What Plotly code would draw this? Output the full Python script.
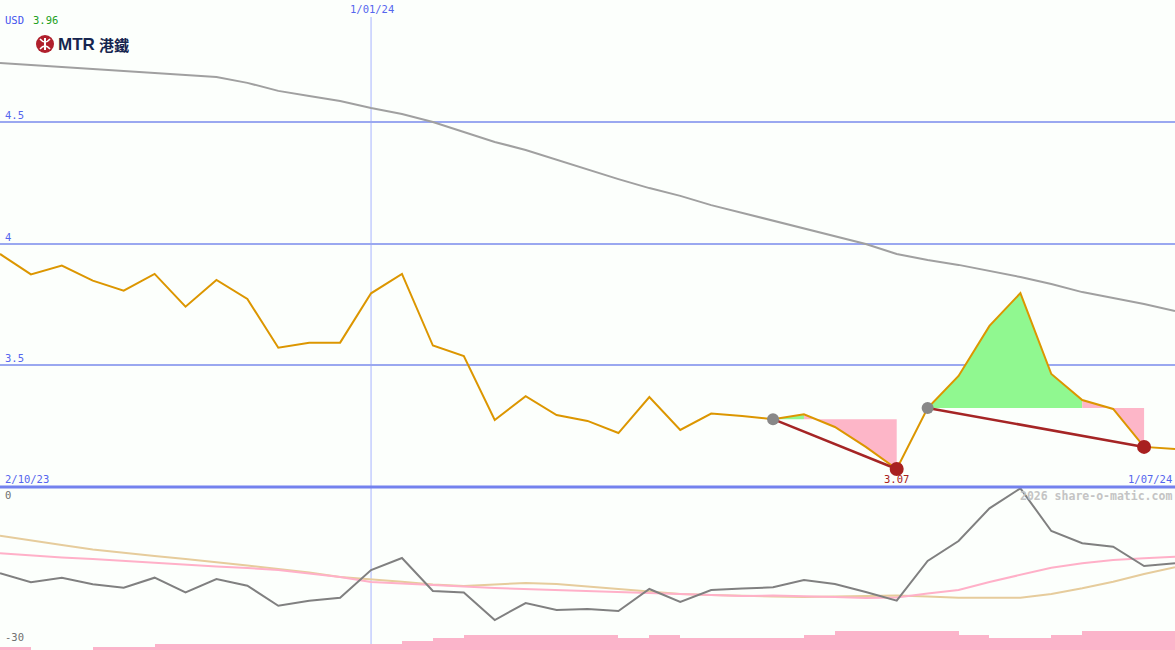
import pandas as pd
import plotly.graph_objects as go

# ---------------- data ----------------
dates = pd.date_range("2023-10-09", periods=39, freq="7D")

price = [3.959, 3.875, 3.911, 3.849, 3.808, 3.877, 3.742, 3.852, 3.774, 3.573,
         3.594, 3.594, 3.797, 3.877, 3.582, 3.539, 3.276, 3.374, 3.296, 3.272,
         3.222, 3.370, 3.235, 3.302, 3.292, 3.279, 3.299, 3.247, 3.165, 3.074,
         3.325, 3.457, 3.663, 3.798, 3.465, 3.358, 3.321, 3.165, 3.156]

ma_long = [4.745, 4.737, 4.728, 4.720, 4.712, 4.704, 4.695, 4.687, 4.663, 4.630,
           4.609, 4.588, 4.560, 4.535, 4.502, 4.461, 4.420, 4.387, 4.346, 4.305,
           4.267, 4.230, 4.198, 4.160, 4.128, 4.095, 4.062, 4.033, 4.000, 3.959,
           3.934, 3.914, 3.889, 3.864, 3.835, 3.802, 3.778, 3.753, 3.724]

osc = [-15.88, -17.54, -16.69, -17.91, -18.53, -16.69, -19.38, -16.93, -18.17, -21.85,
       -20.93, -20.37, -15.28, -13.07, -19.14, -19.42, -24.48, -21.35, -22.64, -22.45,
       -22.82, -18.77, -21.17, -18.96, -18.68, -18.46, -17.12, -17.85, -19.33, -20.93,
       -13.62, -9.94, -3.92, -0.24, -8.10, -10.36, -10.99, -14.54, -14.04]

osc_slow = [-8.96, -9.75, -10.67, -11.50, -12.15, -12.70, -13.25, -13.80, -14.45, -15.09,
            -15.74, -16.56, -16.93, -17.43, -17.94, -18.22, -17.94, -17.67, -17.85, -18.31,
            -18.87, -19.33, -19.69, -19.88, -20.06, -20.15, -20.25, -20.15, -20.06, -19.97,
            -20.15, -20.37, -20.37, -20.37, -19.69, -18.64, -17.43, -16.01, -14.78]

osc_mid = [-12.20, -12.61, -12.98, -13.25, -13.62, -13.99, -14.26, -14.63, -14.91, -15.28,
           -15.92, -16.56, -17.48, -17.72, -17.94, -18.31, -18.59, -18.77, -18.96, -19.23,
           -19.42, -19.60, -19.79, -19.97, -20.06, -19.97, -20.06, -20.25, -20.43, -20.34,
           -19.60, -18.96, -17.48, -16.10, -14.85, -14.04, -13.44, -13.12, -12.83]

volume = [1, 0, 0, 1, 1, 2, 2, 2, 2, 2, 2, 2, 2, 3, 4, 5, 5, 5, 5, 5,
          4, 5, 4, 4, 4, 4, 5, 6.3, 6.3, 6.3, 6.3, 5, 4, 4, 5, 6.3, 6.3, 6.3]

# swing segments: (start index, split index, end index)
segments = [(25, 26, 29), (30, 35, 37)]

y_ticks = [3.5, 4.0, 4.5]
y_tick_labels = ["3.5", "4", "4.5"]
date_labels = ["2/10/23", "1/01/24", "1/07/24"]
low_label = "3.07"

# ---------------- figure ----------------
W, H = 1175, 650
main_bottom = 163 / 650
fig = go.Figure()

# swing fills
for s, m, e in segments:
    lvl = price[s]
    fig.add_trace(go.Scatter(x=dates[s:m + 1], y=[lvl] * (m - s + 1), mode="lines",
                             line=dict(width=0), hoverinfo="skip", showlegend=False))
    fig.add_trace(go.Scatter(x=dates[s:m + 1], y=price[s:m + 1], mode="lines",
                             line=dict(width=0), fill="tonexty", fillcolor="#90f890",
                             hoverinfo="skip", showlegend=False))
    fig.add_trace(go.Scatter(x=dates[m:e + 1], y=[lvl] * (e - m + 1), mode="lines",
                             line=dict(width=0), hoverinfo="skip", showlegend=False))
    fig.add_trace(go.Scatter(x=dates[m:e + 1], y=price[m:e + 1], mode="lines",
                             line=dict(width=0), fill="tonexty", fillcolor="#fdb6c8",
                             hoverinfo="skip", showlegend=False))

fig.add_trace(go.Scatter(x=dates, y=ma_long, mode="lines",
                         line=dict(color="#a0a0a0", width=2), showlegend=False))
fig.add_trace(go.Scatter(x=dates, y=price, mode="lines",
                         line=dict(color="#dc9600", width=2), showlegend=False))

for s, m, e in segments:
    fig.add_trace(go.Scatter(x=[dates[s], dates[e]], y=[price[s], price[e]], mode="lines",
                             line=dict(color="#a52525", width=2.5), showlegend=False))
fig.add_trace(go.Scatter(x=[dates[s] for s, m, e in segments], y=[price[s] for s, m, e in segments],
                         mode="markers", marker=dict(color="#888888", size=12), showlegend=False))
fig.add_trace(go.Scatter(x=[dates[e] for s, m, e in segments], y=[price[e] for s, m, e in segments],
                         mode="markers", marker=dict(color="#a82020", size=14), showlegend=False))

# lower panel
bar_x = [d + pd.Timedelta(hours=84) for d in dates[:-1]]
fig.add_trace(go.Bar(x=bar_x, y=volume, width=7 * 86400000, marker=dict(color="#fbb4ca", line=dict(width=0)),
                     xaxis="x2", yaxis="y3", showlegend=False))
fig.add_trace(go.Scatter(x=dates, y=osc_slow, mode="lines", line=dict(color="#e6cc9c", width=2),
                         xaxis="x2", yaxis="y2", showlegend=False))
fig.add_trace(go.Scatter(x=dates, y=osc_mid, mode="lines", line=dict(color="#ffb0c8", width=2),
                         xaxis="x2", yaxis="y2", showlegend=False))
fig.add_trace(go.Scatter(x=dates, y=osc, mode="lines", line=dict(color="#808080", width=2),
                         xaxis="x2", yaxis="y2", showlegend=False))

xr = [dates[0], dates[-1]]
fig.update_layout(
    width=W, height=H, margin=dict(l=0, r=0, t=0, b=0),
    paper_bgcolor="#fcfffc", plot_bgcolor="#fcfffc",
    showlegend=False, bargap=0,
    xaxis=dict(domain=[0, 1], range=xr, anchor="y", showgrid=False, showticklabels=False,
               zeroline=False, showline=False, ticks=""),
    xaxis2=dict(domain=[0, 1], range=xr, anchor="y2", matches="x", showgrid=False,
                showticklabels=False, zeroline=False, showline=False, ticks=""),
    yaxis=dict(domain=[main_bottom, 1], range=[3.0, 5.004], tickvals=y_ticks, showticklabels=False,
               showgrid=True, gridcolor="#9aa8f0", gridwidth=2, zeroline=False, showline=False, ticks=""),
    yaxis2=dict(domain=[0, main_bottom], range=[-30, 0], showgrid=False, showticklabels=False,
                zeroline=False, showline=False, ticks=""),
    yaxis3=dict(domain=[0, main_bottom], range=[0, 54.33], overlaying="y2", anchor="x2",
                showgrid=False, showticklabels=False, zeroline=False, showline=False, ticks=""),
    font=dict(family="DejaVu Sans Mono", size=10),
)

# vertical date line and panel separator
fig.add_shape(type="line", xref="x", yref="paper", x0=pd.Timestamp("2024-01-01"), x1=pd.Timestamp("2024-01-01"),
              y0=0, y1=1 - 17 / 650, line=dict(color="#a8b4ff", width=1), layer="below")
fig.add_shape(type="line", xref="paper", yref="paper", x0=0, x1=1, y0=main_bottom, y1=main_bottom,
              line=dict(color="#7382ee", width=3), layer="above")

def px_ann(text, x, y, color, xanchor="left", size=10.5, bold=False):
    fig.add_annotation(text=f"<b>{text}</b>" if bold else text, xref="paper", yref="paper",
                       x=x / W, y=1 - y / H, xanchor=xanchor, yanchor="middle", showarrow=False,
                       font=dict(color=color, size=size, family="DejaVu Sans Mono"))

for v, lab in zip(y_ticks, y_tick_labels):
    py = (5.004 - v) / 2.004 * 487
    px_ann(lab, 3, py - 7, "#5566ee")

px_ann(date_labels[1], 372, 9, "#5566ee", xanchor="center")
px_ann(date_labels[0], 3, 479, "#5566ee")
px_ann(date_labels[2], 1174, 479, "#5566ee", xanchor="right")
px_ann(low_label, 896, 479, "#a82020", xanchor="center")
px_ann("0", 3, 495, "#707070")
px_ann("-30", 3, 637, "#707070")
px_ann("2026 share-o-matic.com", 1174, 496, "#c4c4c4", xanchor="right", size=11.5, bold=True)
px_ann("USD", 3, 20, "#4455ee")
px_ann("3.96", 31, 20, "#22a022")

# logo
fig.add_shape(type="circle", xref="paper", yref="paper", x0=36 / W, x1=54 / W, y0=1 - 53 / H, y1=1 - 35 / H,
              fillcolor="#b0202c", line=dict(width=0))
fig.add_shape(type="line", xref="paper", yref="paper", x0=45 / W, x1=45 / W, y0=1 - 50 / H, y1=1 - 38 / H,
              line=dict(color="white", width=2))
fig.add_shape(type="path", xref="paper", yref="paper",
              path=f"M {40/W} {1-39/H} Q {45/W} {1-45/H} {50/W} {1-39/H}", line=dict(color="white", width=1.5))
fig.add_shape(type="path", xref="paper", yref="paper",
              path=f"M {40/W} {1-49/H} Q {45/W} {1-43/H} {50/W} {1-49/H}", line=dict(color="white", width=1.5))
fig.add_annotation(text="<b>MTR</b>", xref="paper", yref="paper", x=56 / W, y=1 - 44 / H, xanchor="left",
                   yanchor="middle", showarrow=False, font=dict(color="#16254f", size=17, family="Liberation Sans"))
fig.add_annotation(text="<b>港鐵</b>", xref="paper", yref="paper", x=97 / W, y=1 - 44 / H, xanchor="left",
                   yanchor="middle", showarrow=False, font=dict(color="#16254f", size=15, family="Noto Sans CJK TC"))

fig.write_html("out.html", config={"displayModeBar": False},
               post_script="document.body.style.margin='0';")
